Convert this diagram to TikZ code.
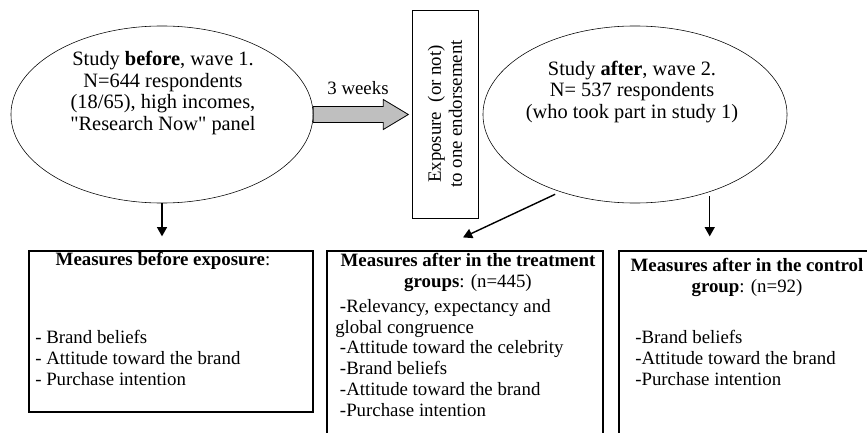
\documentclass[tikz,border=0pt]{standalone}
\usepackage{fontspec}
\setmainfont{Liberation Serif}
\usetikzlibrary{shapes.geometric,arrows.meta,calc}

\begin{document}
\begin{tikzpicture}[x=0.025cm, y=-0.025cm,
  wave/.style={draw, ellipse, minimum width=7.55cm, minimum height=4.425cm, inner sep=0pt},
  measure/.style={draw, line width=0.8pt, minimum width=7.1cm, minimum height=4.025cm, inner sep=0pt},
  bigtext/.style={align=center, inner sep=0pt, font=\fontsize{14.5}{15.6}\selectfont},
  boxtext/.style={inner sep=0pt, font=\fontsize{13.4}{14.9}\selectfont},
  arrow/.style={-{Triangle[length=6.5pt,width=7pt]}, line width=1pt}
  ]
  \useasboundingbox (0,0) rectangle (867,433);
  % the two waves
  \node[wave] (before) at (162,114.5) {};
  \node[wave, minimum width=7.6cm] (after) at (635,114.5) {};
  \node[bigtext] (beforetxt) at (163,93) {Study \textbf{before}, wave 1.\\N=644 respondents\\(18/65), high incomes,\\\textquotedbl Research Now\textquotedbl{} panel};
  \node[bigtext] (aftertxt) at (632,92) {Study \textbf{after}, wave 2.\\N= 537 respondents\\(who took part in study 1)};
  % exposure
  \node[draw, minimum width=1.65cm, minimum height=5.2cm] (expo) at (445,114) {};
  \node[boxtext, rotate=90, align=center] (expotxt) at (expo) {Exposure~ (or not)\\to one endorsement};
  \node[boxtext] (weeks) at (358,88) {3 weeks};
  \draw[fill=gray!50, line width=0.6pt] (before.east) ++(0,-8) -- ++(70,0) -- ++(0,-7) -- ++(25,15)
    -- ++(-25,15) -- ++(0,-7) -- ++(-70,0) -- cycle;
  % measures
  \node[measure] (pre) at (171,331.5) {};
  \node[measure, minimum width=6.9cm, minimum height=4.85cm] (treat) at (465,348) {};
  \node[measure, minimum width=6.4cm, minimum height=4.85cm] (ctrl) at (747,348) {};
  \node[boxtext] (prehead) at (163,261) {\textbf{Measures before exposure}:};
  \node[boxtext, anchor=west, align=left] (preitems) at (35,358) {- Brand beliefs\\- Attitude toward the brand\\- Purchase intention};
  \node[boxtext, align=center] (treathead) at (468,272) {\textbf{Measures after in the treatment}\\\textbf{groups}: (n=445)};
  \node[boxtext, anchor=west, align=left] (treatitems) at (335,358) {\hspace*{.25em}-Relevancy, expectancy and\\global congruence\\\hspace*{.25em}-Attitude toward the celebrity\\\hspace*{.25em}-Brand beliefs\\\hspace*{.25em}-Attitude toward the brand\\\hspace*{.25em}-Purchase intention};
  \node[boxtext, align=center] (ctrlhead) at (747,277) {\textbf{Measures after in the control}\\\textbf{group}: (n=92)};
  \node[boxtext, anchor=west, align=left] (ctrlitems) at (635,358) {-Brand beliefs\\-Attitude toward the brand\\-Purchase intention};
  % arrows
  \draw[arrow, shorten >=10pt] (before.south) -- (before.south |- pre.north);
  \draw[arrow, shorten <=4pt] (after.-134) -- ($(treat.north)+(-2,-13)$);
  \draw[arrow, shorten <=3pt, shorten >=10pt] (after.-46) -- (after.-46 |- ctrl.north);
\end{tikzpicture}
\end{document}
